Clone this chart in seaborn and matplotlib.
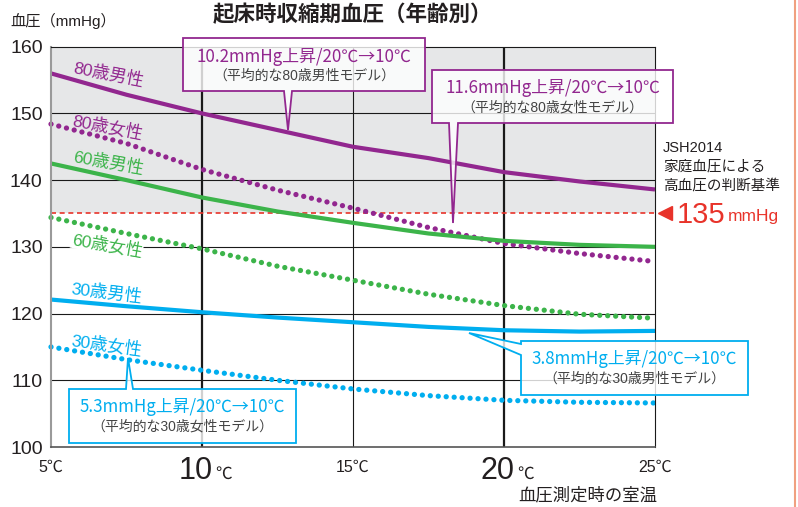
import numpy as np
import pandas as pd
import matplotlib
matplotlib.use('Agg')
import matplotlib.pyplot as plt
import seaborn as sns
from matplotlib.patches import Polygon
from matplotlib.lines import Line2D

# ---------------- data ----------------
temps = [5, 7.5, 10, 12.5, 15, 17.5, 20, 22.5, 25]
bp_80_male = [156.0, 152.8, 150.0, 147.5, 145.0, 143.3, 141.2, 139.8, 138.6]
bp_80_female = [148.4, 145.5, 141.6, 138.5, 135.8, 132.9, 130.5, 129.0, 127.8]
bp_60_male = [142.5, 140.0, 137.4, 135.3, 133.6, 132.0, 130.9, 130.3, 130.0]
bp_60_female = [134.4, 132.0, 129.7, 127.1, 125.0, 122.9, 121.2, 119.9, 119.3]
bp_30_male = [122.1, 121.1, 120.2, 119.4, 118.7, 118.0, 117.5, 117.3, 117.4]
bp_30_female = [115.0, 113.1, 111.5, 110.0, 108.7, 107.7, 107.0, 106.7, 106.6]
series_labels = ['80歳男性', '80歳女性', '60歳男性', '60歳女性', '30歳男性', '30歳女性']
threshold = 135
y_ticks = [100, 110, 120, 130, 140, 150, 160]

PURPLE = '#92278f'
GREEN = '#3cb44a'
BLUE = '#00aeef'
RED = '#e8332a'
TXT = '#231f20'
GRAYTXT = '#444444'

sns.set_theme(style='white')
plt.rcParams['font.family'] = ['Liberation Sans', 'Noto Sans CJK JP', 'DejaVu Sans']
CJK_FIRST = ['Noto Sans CJK JP', 'DejaVu Sans']

W, H = 798, 507
fig = plt.figure(figsize=(W / 100, H / 100), dpi=100)
L_px, R_px, T_px, B_px = 51, 655, 46.7, 447
ax = fig.add_axes([L_px / W, 1 - B_px / H, (R_px - L_px) / W, (B_px - T_px) / H])
ax.set_xlim(5, 25)
ax.set_ylim(100, 160)
ax.set_facecolor('white')


def fx(px):
    return px / W


def fy(py):
    return 1 - py / H


def dx(px):
    return 5 + (px - L_px) / (R_px - L_px) * 20


def dy(py):
    return 160 - (py - T_px) / (B_px - T_px) * 60


# background band above threshold
ax.axhspan(threshold, 160, color='#e6e7e8', zorder=0, lw=0)

# grid
for v in [10, 20]:
    ax.axvline(v, color='#1a1a1a', lw=1.6, zorder=1)
ax.axvline(15, color='#1a1a1a', lw=0.8, zorder=1)
for h in [110, 120, 130, 140, 150]:
    ax.axhline(h, color='#1a1a1a', lw=0.8, zorder=1)

# threshold line
ax.axhline(threshold, color=RED, lw=1.2, ls=(0, (3, 2.2)), zorder=2)

df = pd.DataFrame({'temp': temps * 6,
                   'bp': bp_80_male + bp_80_female + bp_60_male + bp_60_female + bp_30_male + bp_30_female,
                   'group': sum([[s] * len(temps) for s in series_labels], [])})

styles = {
    '80歳男性': (PURPLE, 'solid'),
    '80歳女性': (PURPLE, 'dot'),
    '60歳男性': (GREEN, 'solid'),
    '60歳女性': (GREEN, 'dot'),
    '30歳男性': (BLUE, 'solid'),
    '30歳女性': (BLUE, 'dot'),
}
for name in series_labels:
    col, st = styles[name]
    sub = df[df['group'] == name]
    n_before = len(ax.lines)
    sns.lineplot(data=sub, x='temp', y='bp', ax=ax, color=col, zorder=3,
                 lw=3.0 if st == 'solid' else 3.8, legend=False)
    ln = ax.lines[n_before]
    if st == 'dot':
        ln.set_linestyle((0, (0.01, 1.5)))
        ln.set_dash_capstyle('round')
    else:
        ln.set_solid_capstyle('butt')
    ln.set_clip_on(False)

# spines
for s in ['top', 'right']:
    ax.spines[s].set_visible(True)
    ax.spines[s].set_color('#1a1a1a')
    ax.spines[s].set_linewidth(0.8)
ax.spines['left'].set_color('#9a9a9a')
ax.spines['left'].set_linewidth(1.5)
ax.spines['bottom'].set_color('#555555')
ax.spines['bottom'].set_linewidth(1.2)
for s in ax.spines.values():
    s.set_zorder(4)

ax.set_yticks(y_ticks)
ax.set_yticklabels([str(v) for v in y_ticks], fontsize=14, color=TXT)
ax.tick_params(axis='y', length=0, pad=6)
ax.set_xticks([5, 10, 15, 20, 25])
ax.set_xticklabels([])
ax.tick_params(axis='x', length=0)
ax.set_xlabel('')
ax.set_ylabel('')

# x tick labels (custom mixed sizes)
for v in [5, 15, 25]:
    fig.text(fx(L_px + (v - 5) / 20 * (R_px - L_px)), fy(472), f'{v}℃', ha='center',
             va='baseline', fontsize=11.5, color=TXT)
for v, rpx in [(10, 213), (20, 515)]:
    fig.text(fx(rpx), fy(479), f'{v}', ha='right', va='baseline', fontsize=22, color=TXT)
    fig.text(fx(rpx + 2), fy(479), '℃', ha='left', va='baseline', fontsize=12, color=TXT)

# titles/axis labels
fig.text(fx(352), fy(15), '起床時収縮期血圧（年齢別）', ha='center', va='center',
         fontsize=15.5, fontweight='bold', color=TXT)
fig.text(fx(10), fy(21), '血圧（mmHg）', ha='left', va='center', fontsize=11, color=TXT)
fig.text(fx(588), fy(495), '血圧測定時の室温', ha='center', va='center', fontsize=12.5, color=TXT)

# series labels
lab_pos = {
    '80歳男性': (108, 75, -11, PURPLE, False),
    '80歳女性': (108, 127, -11, PURPLE, False),
    '60歳男性': (108, 163, -10, GREEN, False),
    '60歳女性': (107, 245, -10, GREEN, True),
    '30歳男性': (107, 293, -7, BLUE, False),
    '30歳女性': (107, 345, -8, BLUE, False),
}
for name, (px, py, rot, col, bg) in lab_pos.items():
    kw = {}
    if bg:
        kw['bbox'] = dict(facecolor='white', edgecolor='none', pad=0.5)
    ax.text(dx(px), dy(py), name, ha='center', va='center', rotation=rot,
            rotation_mode='anchor', fontsize=12.5, color=col, zorder=4, **kw)


def callout(Lp, Rp, Tp, Bp, tip, base, side, edge, line1, line2, y1, y2):
    L, R, T, B = dx(Lp), dx(Rp), dy(Tp), dy(Bp)
    tx, ty = dx(tip[0]), dy(tip[1])
    if side == 'bottom':
        b1, b2 = dx(base[0]), dx(base[1])
        verts = [(L, T), (R, T), (R, B), (b2, B), (tx, ty), (b1, B), (L, B)]
    elif side == 'top':
        b1, b2 = dx(base[0]), dx(base[1])
        verts = [(L, T), (b1, T), (tx, ty), (b2, T), (R, T), (R, B), (L, B)]
    else:  # left
        b1, b2 = dy(base[0]), dy(base[1])
        verts = [(L, T), (R, T), (R, B), (L, B), (L, b2), (tx, ty), (L, b1)]
    poly = Polygon(verts, closed=True, facecolor=(1, 1, 1, 0.8), edgecolor=edge,
                   lw=1.3, clip_on=False, zorder=5, joinstyle='miter')
    ax.add_patch(poly)
    cx = (L + R) / 2
    ax.text(cx, dy(y1), line1, ha='center', va='center', fontsize=12.2, color=edge,
            zorder=6, clip_on=False, family=CJK_FIRST)
    ax.text(cx, dy(y2), line2, ha='center', va='center', fontsize=10, color=GRAYTXT,
            zorder=6, clip_on=False)


callout(183, 425, 38, 91, (288, 130), (284, 292), 'bottom', PURPLE,
        '10.2mmHg上昇/20℃→10℃', '（平均的な80歳男性モデル）', 57, 76)
callout(432, 673, 70, 123, (453, 223), (449, 458), 'bottom', PURPLE,
        '11.6mmHg上昇/20℃→10℃', '（平均的な80歳女性モデル）', 88, 108)
callout(521, 748, 341, 395, (469, 333), (344, 355), 'left', BLUE,
        '3.8mmHg上昇/20℃→10℃', '（平均的な30歳男性モデル）', 359, 379)
callout(69, 296, 389, 443, (128, 358), (126, 133), 'top', BLUE,
        '5.3mmHg上昇/20℃→10℃', '（平均的な30歳女性モデル）', 407, 427)

# right side annotations
fig.text(fx(663), fy(148), 'JSH2014', ha='left', va='center', fontsize=10.5, color=TXT)
fig.text(fx(663), fy(167), '家庭血圧による', ha='left', va='center', fontsize=10.5, color=TXT)
fig.text(fx(663), fy(186), '高血圧の判断基準', ha='left', va='center', fontsize=10.5, color=TXT)
ax.plot([dx(665)], [threshold], marker='<', ms=10, color=RED, clip_on=False, zorder=5, mec=RED)
fig.text(fx(677), fy(215), '135', ha='left', va='center', fontsize=21, color=RED)
fig.text(fx(728), fy(217), 'mmHg', ha='left', va='center', fontsize=12.5, color=RED)

fig.add_artist(Line2D([fx(795), fx(795)], [0, 1], color='#f0a080', lw=1.5,
                      transform=fig.transFigure))

fig.savefig('out.png', dpi=100, facecolor='white')
